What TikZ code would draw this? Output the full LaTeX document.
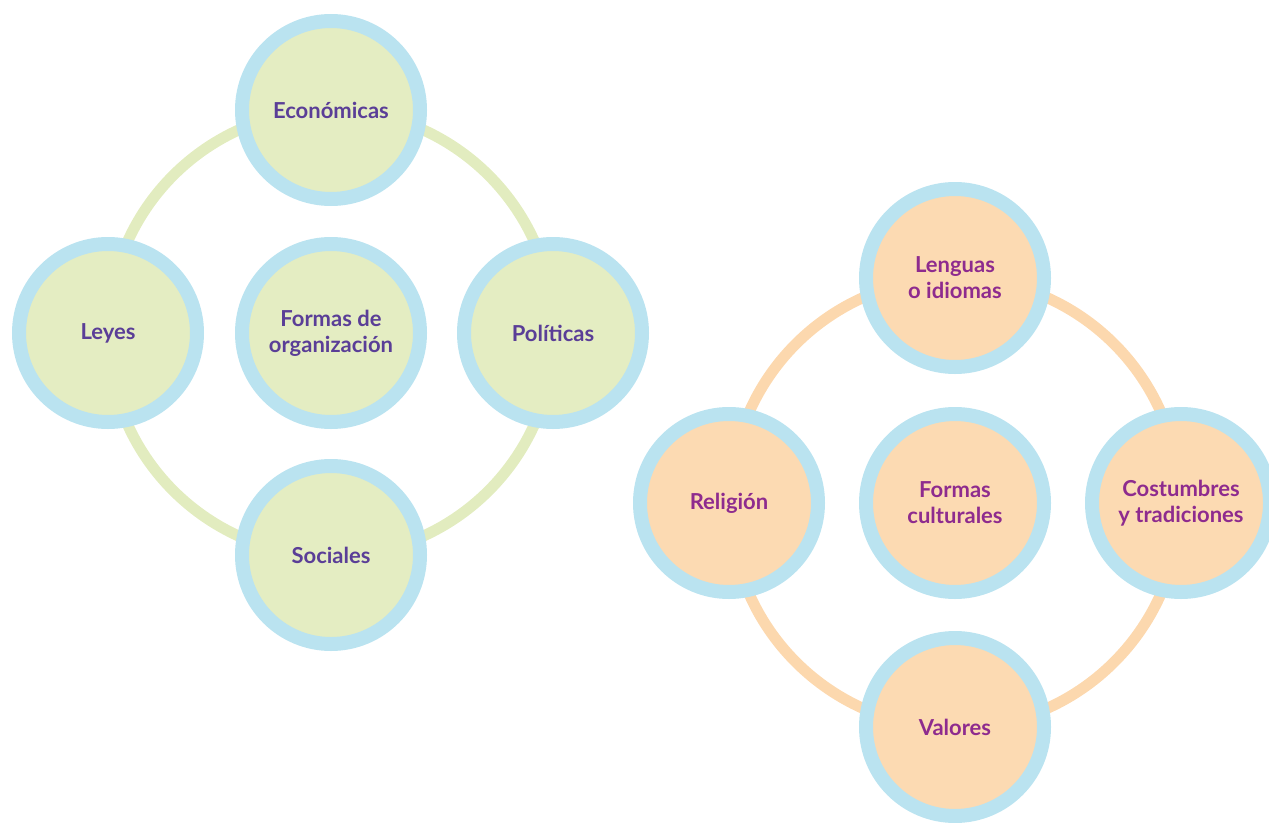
\documentclass[tikz,border=0pt]{standalone}
\usepackage{fontspec}
\setmainfont{Lato}
\usepackage{tikz}
\usetikzlibrary{positioning}
\usepackage{xcolor}

\definecolor{anillo}{HTML}{BAE3F0}
\definecolor{verde}{HTML}{E4EDC2}
\definecolor{naranja}{HTML}{FCDAB2}
\definecolor{lineaverde}{HTML}{E2ECBF}
\definecolor{lineanaranja}{HTML}{FCD8AE}
\definecolor{morado}{HTML}{5A3E97}
\definecolor{magenta}{HTML}{8E2B8E}

\tikzset{
    circulo/.style={circle, draw=anillo, line width=14pt, minimum size=178pt,
        inner sep=0pt, align=center, font=\fontsize{22}{26}\selectfont\bfseries},
    izq/.style={circulo, fill=verde, text=morado},
    der/.style={circulo, fill=naranja, text=magenta},
}

\begin{document}
\begin{tikzpicture}[x=1pt, y=-1pt]
    \useasboundingbox (0, 0) rectangle (1269, 822);

    % formas de organización
    \begin{scope}[shift={(331, 333)}]
        \draw[lineaverde, line width=11pt] (0, 0) circle (223);
        \node[izq] (org) at (0, 0) {Formas de\\organización};
        \node[izq] (eco) at (0, -223) {Económicas};
        \node[izq] (ley) at (-223, 0) {Leyes};
        \node[izq] (pol) at (222, 0) {Políticas};
        \node[izq] (soc) at (0, 222) {Sociales};
    \end{scope}

    % formas culturales
    \begin{scope}[shift={(955, 503)}]
        \draw[lineanaranja, line width=11pt] (0, 0) circle (225);
        \node[der] (cul) at (0, 0) {Formas\\culturales};
        \node[der] (len) at (0, -225) {Lenguas\\o idiomas};
        \node[der] (rel) at (-226, 0) {Religión};
        \node[der] (cos) at (226, 0) {Costumbres\\y tradiciones};
        \node[der] (val) at (0, 224) {Valores};
    \end{scope}
\end{tikzpicture}
\end{document}
